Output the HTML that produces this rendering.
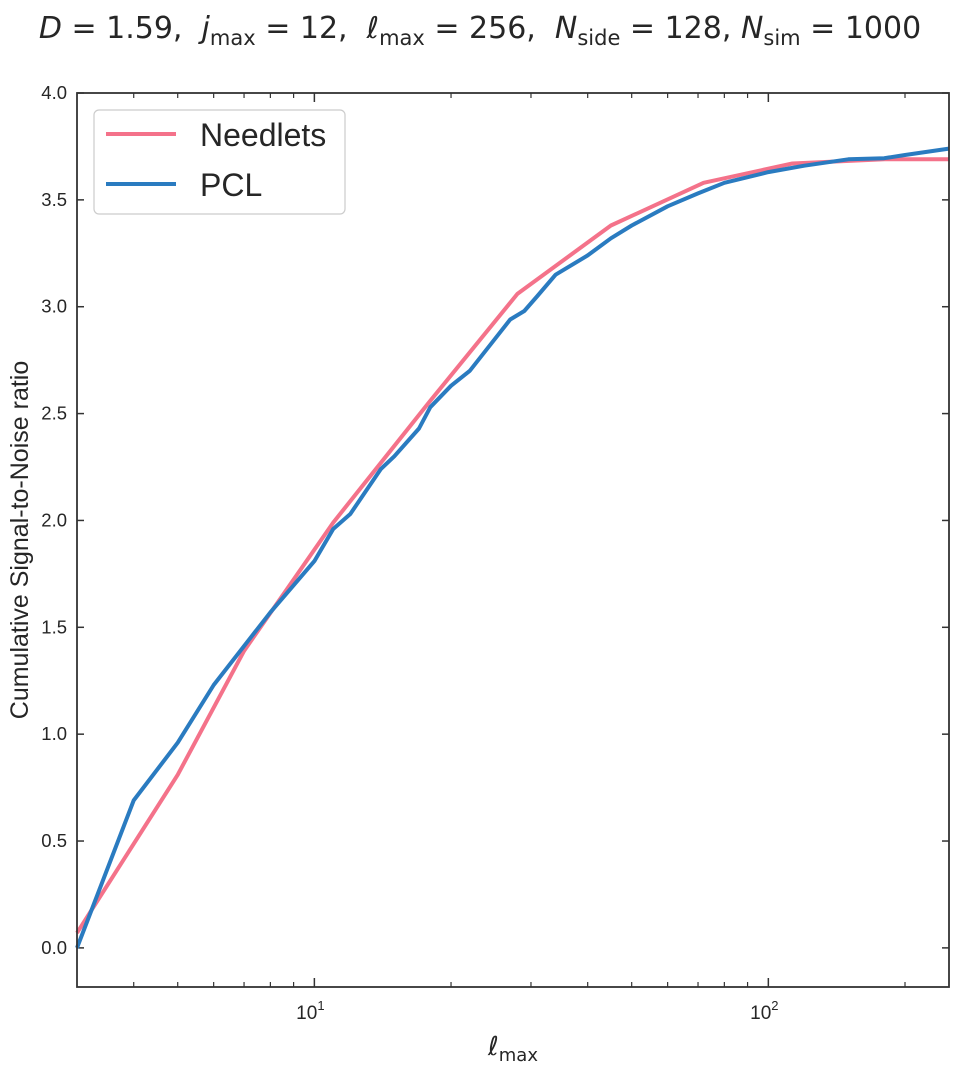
<!DOCTYPE html>
<html><head><meta charset="utf-8"><style>
html,body{margin:0;padding:0;background:#fff;}
svg text{fill:#262626;}
.dv{font-family:"DejaVu Sans",sans-serif;}
.lb{font-family:"Liberation Sans",Arial,sans-serif;}
</style></head><body>
<svg id="chart" width="960" height="1068" viewBox="0 0 960 1068" xmlns="http://www.w3.org/2000/svg">
<text class="dv" x="480" y="38" text-anchor="middle" font-size="30" xml:space="preserve"><tspan font-style="italic">D</tspan> = 1.59,  <tspan font-style="italic">j</tspan><tspan font-size="21" dy="7">max</tspan><tspan dy="-7"> = 12,  </tspan><tspan font-style="italic">ℓ</tspan><tspan font-size="21" dy="7">max</tspan><tspan dy="-7"> = 256,  </tspan><tspan font-style="italic">N</tspan><tspan font-size="21" dy="7">side</tspan><tspan dy="-7"> = 128, </tspan><tspan font-style="italic">N</tspan><tspan font-size="21" dy="7">sim</tspan><tspan dy="-7"> = 1000</tspan></text>
<g id="axes"></g>
<g id="series"></g>
<rect x="77" y="93" width="872" height="894" fill="none" stroke="#333" stroke-width="1.8"/>
<text class="lb" transform="translate(28,540) rotate(-90)" text-anchor="middle" font-size="25">Cumulative Signal-to-Noise ratio</text>
<text class="dv" x="513" y="1055" text-anchor="middle" font-size="26"><tspan font-style="italic">ℓ</tspan><tspan font-size="18" dy="6">max</tspan></text>
<g>
<rect x="94" y="110" width="251" height="104" rx="5" fill="#fff" stroke="#ccc" stroke-width="1.2"/>
<line x1="106" y1="134" x2="176" y2="134" stroke="#f4728a" stroke-width="4"/>
<text class="lb" x="200" y="146" font-size="32">Needlets</text>
<line x1="106" y1="184" x2="176" y2="184" stroke="#2a7bc0" stroke-width="4"/>
<text class="lb" x="200" y="196" font-size="32">PCL</text>
</g>
</svg>
<script>
const needletsL=[3,5,7,11,18,28,45,72,113,180,250];
const needletsV=[0.07,0.81,1.39,1.99,2.56,3.06,3.38,3.58,3.67,3.69,3.69];
const pclL=[3,4,5,6,8,10,11,12,14,15,17,18,20,22,25,27,29,31,34,40,45,50,60,70,80,100,120,150,180,200,250];
const pclV=[0.0,0.69,0.96,1.23,1.57,1.81,1.96,2.03,2.24,2.30,2.43,2.53,2.63,2.70,2.85,2.94,2.98,3.05,3.15,3.24,3.32,3.38,3.47,3.53,3.58,3.63,3.66,3.69,3.695,3.71,3.74];
const yTicks=[0.0,0.5,1.0,1.5,2.0,2.5,3.0,3.5,4.0];
const xMajor=[10,100];
const xMinor=[4,5,6,7,8,9,20,30,40,50,60,70,80,90,200];
const NS="http://www.w3.org/2000/svg";
const X0=77,X1=949,Y0=93,Y1=987,LMIN=3,LMAX=250,VMIN=-0.183,VMAX=4.0;
function sx(l){return X0+(Math.log10(l)-Math.log10(LMIN))/(Math.log10(LMAX)-Math.log10(LMIN))*(X1-X0);}
function sy(v){return Y1-(v-VMIN)/(VMAX-VMIN)*(Y1-Y0);}
function mk(tag,attrs,parent){const e=document.createElementNS(NS,tag);for(const k in attrs)e.setAttribute(k,attrs[k]);parent.appendChild(e);return e;}
const ax=document.getElementById('axes');
yTicks.forEach(v=>{const y=sy(v);
 const t1=mk('line',{x1:X0,x2:X0+7,y1:y,y2:y,stroke:'#333','stroke-width':1.5},ax);
 
 
 const t2=mk('line',{x1:X1-7,x2:X1,y1:y,y2:y,stroke:'#333','stroke-width':1.5},ax);
 
 
 const lb=mk('text',{x:X0-10,y:y+6,'text-anchor':'end','font-size':18.5,'class':'lb'},ax);
 lb.textContent=v.toFixed(1);
 
 
});
xMajor.forEach(l=>{const x=sx(l);
 [[Y1-9,Y1],[Y0,Y0+9]].forEach(p=>{const t=mk('line',{x1:x,x2:x,y1:p[0],y2:p[1],stroke:'#333','stroke-width':1.5},ax);
 
 });
 const lb=mk('text',{x:x-4,y:Y1+32,'text-anchor':'middle','font-size':19,'class':'lb'},ax);
 lb.innerHTML='10<tspan font-size="13" dy="-9">'+Math.round(Math.log10(l))+'</tspan>';
 
 
});
xMinor.forEach(l=>{const x=sx(l);
 [[Y1-5,Y1],[Y0,Y0+5]].forEach(p=>{const t=mk('line',{x1:x,x2:x,y1:p[0],y2:p[1],stroke:'#333','stroke-width':1.2},ax);
 
 });
});
const sg=document.getElementById('series');
function line(L,V,color,name){const d=L.map((l,i)=>(i?'L':'M')+sx(l).toFixed(1)+' '+sy(V[i]).toFixed(1)).join(' ');
 const p=mk('path',{d:d,fill:'none',stroke:color,'stroke-width':4,'stroke-linejoin':'round'},sg);
 
 }
line(needletsL,needletsV,'#f4728a','needlets-line');
line(pclL,pclV,'#2a7bc0','pcl-line');
</script>
</body></html>
